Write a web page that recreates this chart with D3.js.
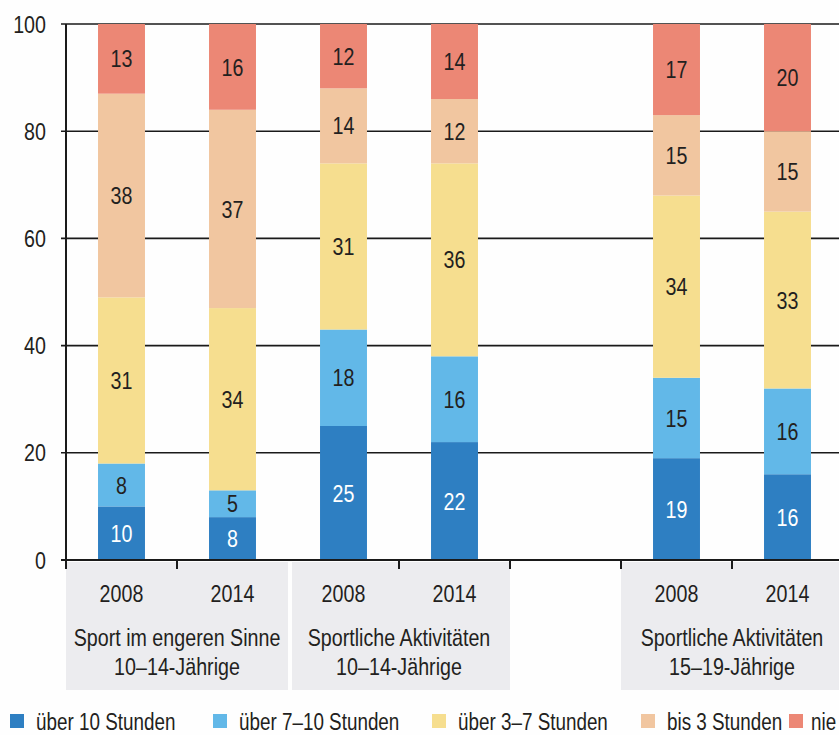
<!DOCTYPE html>
<html>
<head>
<meta charset="utf-8">
<script src="https://cdn.jsdelivr.net/npm/d3@7"></script>
<style>
  html, body { margin: 0; padding: 0; background: #fefefe; }
  svg { display: block; }
  text { font-family: "Liberation Sans", Arial, sans-serif; fill: #231f20; }
</style>
</head>
<body>
<svg id="chart" width="839" height="735"></svg>
<script>
// ---- data ----
const slots = ["g1-2008", "g1-2014", "g2-2008", "g2-2014", "gap", "g3-2008", "g3-2014"];
const barSlots = ["g1-2008", "g1-2014", "g2-2008", "g2-2014", "g3-2008", "g3-2014"];
const years = ["2008", "2014", "2008", "2014", "2008", "2014"];
const groupLabels = [
  ["Sport im engeren Sinne", "10–14-Jährige"],
  ["Sportliche Aktivitäten", "10–14-Jährige"],
  ["Sportliche Aktivitäten", "15–19-Jährige"]
];
const groupSlots = [["g1-2008", "g1-2014"], ["g2-2008", "g2-2014"], ["g3-2008", "g3-2014"]];
const seriesNames = ["über 10 Stunden", "über 7–10 Stunden", "über 3–7 Stunden", "bis 3 Stunden", "nie"];
const ueber10 = [10, 8, 25, 22, 19, 16];
const ueber7bis10 = [8, 5, 18, 16, 15, 16];
const ueber3bis7 = [31, 34, 31, 36, 34, 33];
const bis3 = [38, 37, 14, 12, 15, 15];
const nie = [13, 16, 12, 14, 17, 20];
const yTicks = [0, 20, 40, 60, 80, 100];
const tickSlots = ["g1-2014", "g2-2014", "gap", "g3-2008", "g3-2014"]; // ticks at left edge of these slots

// ---- styles ----
const colors = ["#2e7fc2", "#62b8e8", "#f6de8f", "#f1c6a0", "#ec8775"];
const labelColors = ["#ffffff", "#231f20", "#231f20", "#231f20", "#231f20"];
const SX = 0.82; // condensed look

const svg = d3.select("#chart");
const x = d3.scaleBand().domain(slots).range([66, 843]).paddingInner(0.577).paddingOuter(0.2885);
const y = d3.scaleLinear().domain([0, 100]).range([560, 24]);
const step = x.step();

function label(parent, tx, ty, str, size, anchor, fill) {
  return parent.append("text")
    .attr("transform", `translate(${tx},${ty}) scale(${SX},1)`)
    .attr("dy", "0.36em")
    .attr("text-anchor", anchor || "middle")
    .attr("font-size", size)
    .style("fill", fill || "#231f20")
    .text(str);
}

// grey label boxes
const boxes = svg.append("g");
groupSlots.forEach((g, i) => {
  const x0 = x(g[0]) - x.paddingOuter() * step + (i === 1 ? 4 : 0);
  const x1 = x(g[1]) - x.paddingOuter() * step + step;
  boxes.append("rect").attr("x", x0).attr("y", 562).attr("width", x1 - x0).attr("height", 128).attr("fill", "#ececef");
});

// gridlines
svg.append("g").selectAll("line").data(yTicks.filter(d => d > 0)).join("line")
  .attr("x1", 61).attr("x2", 839).attr("y1", d => y(d)).attr("y2", d => y(d))
  .attr("stroke", "#1a1a1a").attr("stroke-width", 1.6);

// y labels
const yl = svg.append("g");
yTicks.forEach(d => label(yl, 46, y(d), d, 24, "end"));

// stacked bars
const stackData = barSlots.map((s, i) => ({ slot: s, v: [ueber10[i], ueber7bis10[i], ueber3bis7[i], bis3[i], nie[i]] }));
const stack = d3.stack().keys([0, 1, 2, 3, 4]).value((d, k) => d.v[k]);
const layers = stack(stackData);
const bw = x.bandwidth();
layers.forEach((layer, k) => {
  const g = svg.append("g");
  g.selectAll("rect").data(layer).join("rect")
    .attr("x", d => x(d.data.slot)).attr("width", bw)
    .attr("y", d => y(d[1])).attr("height", d => y(d[0]) - y(d[1]))
    .attr("fill", colors[k]);
  layer.forEach(d => label(g, x(d.data.slot) + bw / 2, y((d[0] + d[1]) / 2), d.data.v[k], 24, "middle", labelColors[k]));
});

// axes
svg.append("line").attr("x1", 66).attr("x2", 66).attr("y1", 24).attr("y2", 561).attr("stroke", "#1a1a1a").attr("stroke-width", 2);
svg.append("line").attr("x1", 61).attr("x2", 839).attr("y1", 560).attr("y2", 560).attr("stroke", "#1a1a1a").attr("stroke-width", 2);
svg.append("g").selectAll("line").data(tickSlots).join("line")
  .attr("x1", d => x(d) - x.paddingOuter() * step).attr("x2", d => x(d) - x.paddingOuter() * step)
  .attr("y1", 560).attr("y2", 569).attr("stroke", "#1a1a1a").attr("stroke-width", 2);
svg.append("line").attr("x1", 66).attr("x2", 66).attr("y1", 560).attr("y2", 569).attr("stroke", "#1a1a1a").attr("stroke-width", 2);

// year labels
const yrs = svg.append("g");
barSlots.forEach((d, i) => label(yrs, x(d) + bw / 2, 593, years[i], 24));

// group labels
const gl = svg.append("g");
groupSlots.forEach((g, i) => {
  const cx = (x(g[0]) + x(g[1]) + bw) / 2;
  groupLabels[i].forEach((line, j) => label(gl, cx, 637 + j * 29, line, 24));
});

// legend
const legendX = [10, 213, 432, 641, 789];
const leg = svg.append("g");
seriesNames.forEach((name, i) => {
  leg.append("rect").attr("x", legendX[i]).attr("y", 714).attr("width", 14).attr("height", 14).attr("fill", colors[i]);
  label(leg, legendX[i] + (i === 4 ? 22 : 26), 722, name, 23, "start");
});
</script>
</body>
</html>
